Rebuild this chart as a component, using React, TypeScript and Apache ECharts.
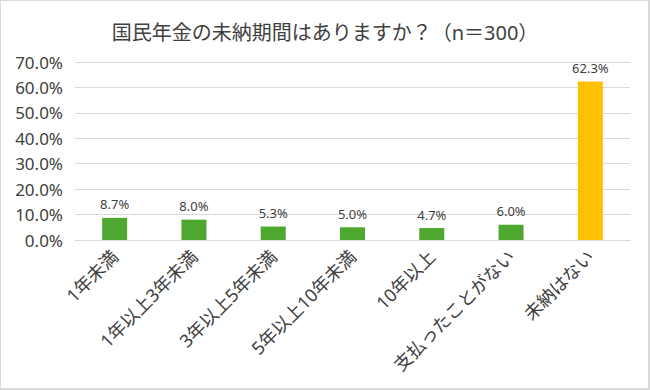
import React, { useEffect, useRef } from "react";
import * as echarts from "echarts";

const titleText = "国民年金の未納期間はありますか？（n＝300）";
const categories = [
  "1年未満",
  "1年以上3年未満",
  "3年以上5年未満",
  "5年以上10年未満",
  "10年以上",
  "支払ったことがない",
  "未納はない",
];
const values = [8.7, 8.0, 5.3, 5.0, 4.7, 6.0, 62.3];
const barColors = ["#4ea72e", "#4ea72e", "#4ea72e", "#4ea72e", "#4ea72e", "#4ea72e", "#ffc000"];
const yMin = 0;
const yMax = 70;
const yInterval = 10;

const FONT = '"Noto Sans", "Noto Sans CJK JP", sans-serif';

export default function App() {
  const ref = useRef<HTMLDivElement>(null);
  useEffect(() => {
    document.body.style.margin = "0";
    if (!ref.current) return;
    const chart = echarts.init(ref.current, null, { renderer: "svg" });
    chart.setOption({
      animation: false,
      backgroundColor: "#ffffff",
      title: {
        text: titleText,
        left: "center",
        top: 17,
        textStyle: {
          fontFamily: FONT,
          fontSize: 20,
          fontWeight: "normal",
          color: "#404040",
        },
      },
      grid: { left: 75, right: 20, top: 62, bottom: 150 },
      xAxis: {
        type: "category",
        data: categories,
        axisLine: { show: true, lineStyle: { color: "#d9d9d9", width: 1 } },
        axisTick: { show: false },
        axisLabel: {
          rotate: 45,
          interval: 0,
          margin: 13,
          fontFamily: FONT,
          fontSize: 18,
          color: "#404040",
        },
      },
      yAxis: {
        type: "value",
        min: yMin,
        max: yMax,
        interval: yInterval,
        axisLine: { show: false },
        axisTick: { show: false },
        splitLine: { lineStyle: { color: "#d9d9d9", width: 1 } },
        axisLabel: {
          margin: 12,
          fontFamily: FONT,
          fontSize: 17,
          color: "#404040",
          formatter: (v: number) => v.toFixed(1) + "%",
        },
      },
      series: [
        {
          type: "bar",
          barWidth: 25,
          data: values.map((v, i) => ({ value: v, itemStyle: { color: barColors[i] } })),
          label: {
            show: true,
            position: "top",
            distance: 7,
            fontFamily: FONT,
            fontSize: 13,
            color: "#404040",
            formatter: (p: any) => Number(p.value).toFixed(1) + "%",
          },
        },
      ],
    });
    return () => chart.dispose();
  }, []);
  return (
    <div style={{ position: "relative", width: 650, height: 390 }}>
      <div ref={ref} style={{ width: 650, height: 390 }} />
      <div
        style={{
          position: "absolute",
          left: 0,
          top: 0,
          width: 650,
          height: 390,
          boxSizing: "border-box",
          borderTop: "1px solid #d9d9d9",
          borderLeft: "1px solid #d9d9d9",
          borderRight: "2px solid #d9d9d9",
          borderBottom: "2px solid #d9d9d9",
          pointerEvents: "none",
        }}
      />
    </div>
  );
}
